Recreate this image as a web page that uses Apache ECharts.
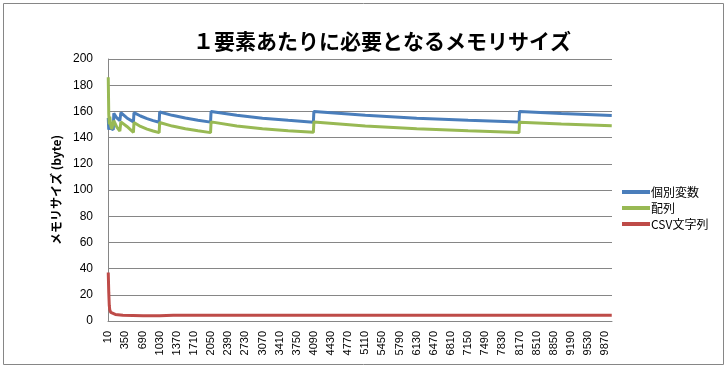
<!DOCTYPE html>
<html><head><meta charset="utf-8">
<script src="https://cdn.jsdelivr.net/npm/echarts@6/dist/echarts.min.js"></script>
<style>html,body{margin:0;padding:0;background:#fff}#c{width:727px;height:368px}</style>
</head><body><div id="c"></div>
<script>
// Categories: element counts 10..10000, step 10
const categories = [];
for (let c = 10; c <= 10000; c += 10) categories.push(String(c));

const title = '１要素あたりに必要となるメモリサイズ';
const yAxisName = 'メモリサイズ (byte)';
const seriesNames = ['個別変数', '配列', 'CSV文字列'];

// Values: [element count, bytes per element]
const kobetsu = [
  [10,155],[20,146],[40,152],[60,147],[110,146],[120,158.6],[180,155],[240,153],[250,152.5],[260,159],
  [380,155],[510,152],[520,159],[650,156.5],[780,154.5],[900,153],[1020,151.7],[1030,159.5],
  [1280,157],[1540,155],[1790,153.3],[2040,151.8],[2050,160],[2560,157],[3070,154.8],[3580,153.2],
  [4080,151.8],[4090,160],[5110,157],[6130,154.8],[7150,153.3],[8160,152],[8170,160],[9000,158.4],[10000,156.8]
];
const hairetsu = [
  [10,186],[20,158],[30,150],[40,156],[60,149],[80,146.5],[110,146],[120,153],[180,148],[240,145],[250,144.5],[260,152],
  [380,148.5],[510,144],[520,151.5],[650,148.5],[780,146.5],[900,145],[1020,143.8],[1030,151.5],
  [1280,148.8],[1540,146.7],[1790,145.2],[2040,143.8],[2050,152],[2560,148.8],[3070,146.7],[3580,145.2],
  [4080,144],[4090,152],[5110,148.8],[6130,146.7],[7150,145.2],[8160,143.8],[8170,151.8],[9000,150.4],[10000,149]
];
const csv = [
  [10,37],[20,22],[30,12],[40,8.5],[60,6.5],[80,5.8],[150,5],[300,4.4],[700,4],[1030,4],[1300,4.3],[3000,4.3],[10000,4.3]
];

const toPts = arr => arr.map(p => [String(p[0]), p[1]]);
const colors = ['#4a7ebb', '#98b954', '#be4b48'];

const chart = echarts.init(document.getElementById('c'), null, {renderer: 'canvas'});
chart.setOption({
  animation: false,
  backgroundColor: '#fff',
  title: {
    text: title, left: 377, top: 26, textAlign: 'center',
    textStyle: {fontFamily: 'Noto Sans CJK JP', fontSize: 21, fontWeight: 'bold', color: '#000'}
  },
  graphic: [{
    type: 'rect', shape: {x: 3.5, y: 3.5, width: 720, height: 361},
    style: {fill: 'none', stroke: '#868686', lineWidth: 1}, silent: true, z: -1
  }],
  legend: {
    orient: 'vertical', left: 617, top: 180, itemGap: 2,
    icon: 'rect', itemWidth: 28, itemHeight: 4,
    textStyle: {fontFamily: 'Noto Sans CJK JP', fontSize: 12, color: '#000', lineHeight: 14, padding: [0,0,0,-4]},
    data: seriesNames
  },
  grid: {left: 108, right: 115, top: 59, bottom: 47, containLabel: false},
  xAxis: {
    type: 'category', data: categories, boundaryGap: true,
    axisLine: {lineStyle: {color: '#868686', width: 1}},
    axisTick: {show: false},
    axisLabel: {interval: 33, rotate: 90, margin: 10, fontFamily: 'Liberation Sans', fontSize: 11, color: '#000'},
    splitLine: {show: false}
  },
  yAxis: {
    type: 'value', min: 0, max: 200, interval: 20,
    name: yAxisName, nameLocation: 'middle', nameGap: 40, nameRotate: 90,
    nameTextStyle: {fontFamily: 'Noto Sans CJK JP', fontSize: 12, fontWeight: 'bold', color: '#000'},
    axisLine: {show: true, lineStyle: {color: '#868686', width: 1}},
    axisTick: {show: false},
    axisLabel: {margin: 15, fontFamily: 'Liberation Sans', fontSize: 12, color: '#000'},
    splitLine: {lineStyle: {color: '#868686', width: 1}}
  },
  series: [
    {name: seriesNames[0], type: 'line', data: toPts(kobetsu), showSymbol: false, smooth: false,
     lineStyle: {width: 3, color: colors[0]}, itemStyle: {color: colors[0]}},
    {name: seriesNames[1], type: 'line', data: toPts(hairetsu), showSymbol: false,
     lineStyle: {width: 3, color: colors[1]}, itemStyle: {color: colors[1]}},
    {name: seriesNames[2], type: 'line', data: toPts(csv), showSymbol: false,
     lineStyle: {width: 3, color: colors[2]}, itemStyle: {color: colors[2]}}
  ]
});
</script></body></html>
